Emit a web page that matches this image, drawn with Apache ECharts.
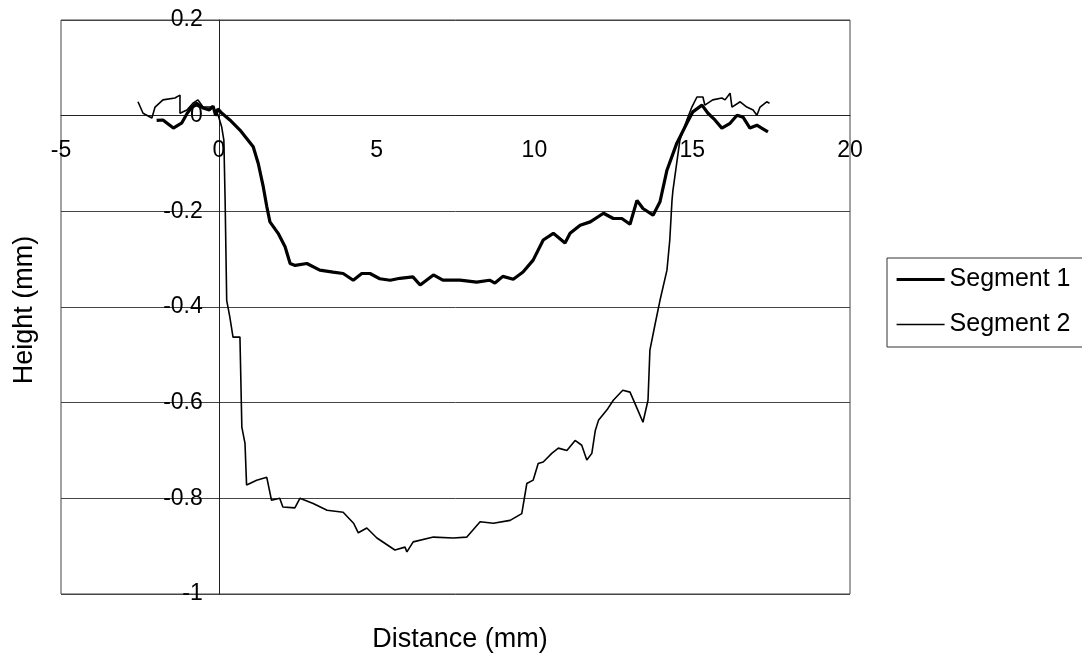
<!DOCTYPE html>
<html>
<head>
<meta charset="utf-8">
<script src="https://cdn.jsdelivr.net/npm/echarts@6/dist/echarts.min.js"></script>
<style>
html,body{margin:0;padding:0;background:#fff;}
#chart{width:1082px;height:655px;}
</style>
</head>
<body>
<div id="chart"></div>
<script>
// ---- data ----
var seriesNames = ['Segment 1', 'Segment 2'];
var xTitle = 'Distance (mm)';
var yTitle = 'Height (mm)';

var seg1X = [-1.97,-1.77,-1.44,-1.17,-1.00,-0.85,-0.70,-0.50,-0.30,-0.18,-0.10,-0.03,0.10,0.35,0.67,1.09,1.25,1.41,1.52,1.62,1.88,2.10,2.26,2.42,2.79,3.20,3.62,3.94,4.26,4.53,4.79,5.10,5.43,5.74,6.15,6.38,6.80,7.10,7.64,8.17,8.58,8.75,9.00,9.33,9.64,9.96,10.28,10.60,10.97,11.13,11.45,11.77,12.19,12.50,12.77,13.03,13.25,13.44,13.76,13.98,14.20,14.51,14.83,15.02,15.31,15.50,15.72,15.94,16.20,16.42,16.61,16.83,17.05,17.20,17.40];
var seg1Y = [-0.010,-0.009,-0.026,-0.015,0.005,0.018,0.026,0.016,0.012,0.020,0.000,0.014,0.005,-0.009,-0.030,-0.065,-0.100,-0.149,-0.190,-0.222,-0.246,-0.274,-0.309,-0.313,-0.309,-0.323,-0.327,-0.330,-0.344,-0.330,-0.330,-0.341,-0.344,-0.340,-0.337,-0.354,-0.333,-0.344,-0.344,-0.348,-0.344,-0.350,-0.336,-0.342,-0.327,-0.302,-0.260,-0.246,-0.266,-0.246,-0.229,-0.222,-0.204,-0.215,-0.215,-0.227,-0.177,-0.194,-0.208,-0.180,-0.114,-0.058,-0.016,0.008,0.022,0.005,-0.009,-0.026,-0.016,0.001,-0.003,-0.026,-0.020,-0.026,-0.034];

var seg2X = [-2.56,-2.40,-2.12,-2.02,-1.77,-1.39,-1.23,-1.23,-1.01,-0.82,-0.66,-0.50,-0.18,-0.02,0.09,0.16,0.20,0.25,0.35,0.45,0.67,0.73,0.83,0.88,1.20,1.52,1.67,1.93,2.03,2.41,2.57,2.99,3.43,3.94,4.27,4.42,4.69,5.01,5.58,5.90,5.96,6.16,6.80,7.43,7.86,8.28,8.70,9.23,9.60,9.76,9.96,10.12,10.28,10.55,10.76,11.03,11.29,11.50,11.66,11.82,11.93,12.03,12.30,12.50,12.80,13.03,13.28,13.44,13.60,13.66,13.83,13.98,14.20,14.29,14.36,14.39,14.61,14.83,14.99,15.15,15.34,15.40,15.65,15.94,16.04,16.20,16.26,16.52,16.73,16.93,17.05,17.15,17.36,17.45];
var seg2Y = [0.029,0.005,-0.005,0.018,0.033,0.037,0.043,0.005,0.012,0.026,0.033,0.018,0.018,0.001,-0.023,-0.051,-0.176,-0.386,-0.421,-0.463,-0.463,-0.651,-0.685,-0.772,-0.762,-0.756,-0.804,-0.800,-0.818,-0.820,-0.800,-0.811,-0.825,-0.829,-0.852,-0.872,-0.862,-0.883,-0.908,-0.902,-0.912,-0.891,-0.881,-0.883,-0.881,-0.849,-0.852,-0.846,-0.832,-0.769,-0.762,-0.727,-0.724,-0.706,-0.695,-0.700,-0.679,-0.689,-0.720,-0.706,-0.658,-0.637,-0.615,-0.595,-0.574,-0.578,-0.616,-0.641,-0.595,-0.490,-0.434,-0.386,-0.323,-0.260,-0.177,-0.156,-0.051,-0.009,0.018,0.039,0.039,0.022,0.033,0.037,0.033,0.047,0.018,0.029,0.018,0.012,0.001,0.018,0.029,0.026];

var xMin = -5, xMax = 20, xStep = 5;
var yMin = -1, yMax = 0.2, yStep = 0.2;

function pairs(xs, ys) {
  var out = [];
  for (var i = 0; i < xs.length; i++) out.push([xs[i], ys[i]]);
  return out;
}

var FONT = "'Liberation Sans', Arial, sans-serif";
var GRID = {left: 61, top: 20, right: 232, bottom: 61};
var W1 = 3.2, W2 = 1.6;
var chart = echarts.init(document.getElementById('chart'), null, {renderer: 'canvas'});

chart.setOption({
  animation: false,
  backgroundColor: '#fff',
  grid: {
    left: GRID.left, top: GRID.top, right: GRID.right, bottom: GRID.bottom,
    show: true, borderColor: '#444', borderWidth: 1, backgroundColor: 'transparent'
  },
  xAxis: {
    type: 'value', min: xMin, max: xMax, interval: xStep,
    position: 'bottom', offset: 0,
    axisLine: {show: true, onZero: false, lineStyle: {color: '#222', width: 1}},
    axisTick: {show: false},
    splitLine: {show: false},
    axisLabel: {
      color: '#000', fontSize: 23, fontFamily: FONT, margin: 23,
      showMinLabel: true, showMaxLabel: true
    }
  },
  yAxis: {
    type: 'value', min: yMin, max: yMax, interval: yStep,
    position: 'left', offset: 0,
    axisLine: {show: true, onZero: false, lineStyle: {color: '#222', width: 1}},
    axisTick: {show: false},
    splitLine: {show: true, lineStyle: {color: '#444', width: 1}},
    axisLabel: {
      color: '#000', fontSize: 23, fontFamily: FONT, margin: 16,
      showMinLabel: true, showMaxLabel: true,
      formatter: function (v) { return String(Math.round(v * 10) / 10); }
    }
  },
  legend: {
    orient: 'vertical',
    left: 887, top: 258,
    padding: [9, 24, 10, 8],
    itemGap: 20,
    itemWidth: 48,
    itemHeight: 12,
    borderColor: '#333', borderWidth: 1,
    itemStyle: {opacity: 0},
    textStyle: {color: '#000', fontSize: 25, fontFamily: FONT},
    data: [
      {name: seriesNames[0], lineStyle: {color: '#000', width: W1}, itemStyle: {opacity: 0}},
      {name: seriesNames[1], lineStyle: {color: '#000', width: W2}, itemStyle: {opacity: 0}}
    ]
  },
  graphic: [
    {
      type: 'text', x: 25, y: 310, rotation: Math.PI / 2,
      style: {text: yTitle, fill: '#000', fontSize: 27, fontFamily: FONT, align: 'center', verticalAlign: 'middle'}
    },
    {
      type: 'text', x: 460, y: 640,
      style: {text: xTitle, fill: '#000', fontSize: 27, fontFamily: FONT, align: 'center', verticalAlign: 'middle'}
    }
  ],
  series: [
    {
      name: seriesNames[0], type: 'line', data: pairs(seg1X, seg1Y),
      symbol: 'none', showSymbol: false, smooth: false,
      lineStyle: {color: '#000', width: W1},
      itemStyle: {color: '#000'}, z: 3
    },
    {
      name: seriesNames[1], type: 'line', data: pairs(seg2X, seg2Y),
      symbol: 'none', showSymbol: false, smooth: false,
      lineStyle: {color: '#000', width: W2},
      itemStyle: {color: '#000'}, z: 2
    }
  ]
});

// Move each axis (line + labels) onto the other's zero, using the chart's own scale.
var origin = chart.convertToPixel({gridIndex: 0}, [0, 0]);
var gridBottomPx = chart.getHeight() - GRID.bottom;
chart.setOption({
  xAxis: {offset: origin[1] - gridBottomPx},
  yAxis: {offset: GRID.left - origin[0]}
});
</script>
</body>
</html>
